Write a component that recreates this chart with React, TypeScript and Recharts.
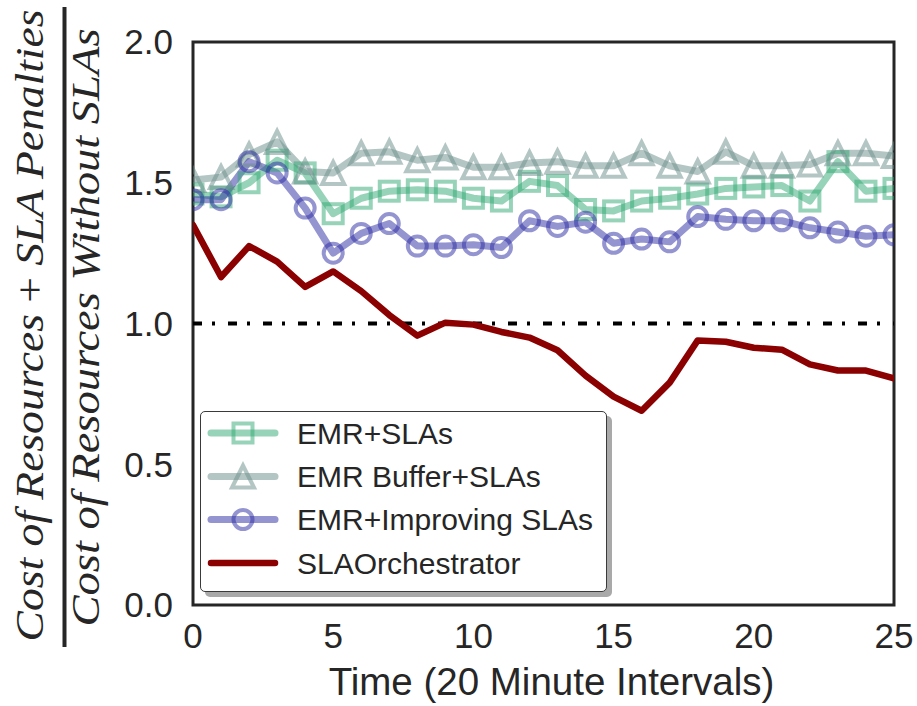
import React from "react";
import {
  LineChart,
  Line,
  XAxis,
  YAxis,
  ReferenceLine,
  ReferenceArea,
  Legend,
  Label,
} from "recharts";

// ---- data -------------------------------------------------------------
const times = [
  0, 1, 2, 3, 4, 5, 6, 7, 8, 9, 10, 11, 12, 13, 14, 15, 16, 17, 18, 19, 20,
  21, 22, 23, 24, 25,
];

const emrSlas = [
  1.46, 1.45, 1.5, 1.58, 1.535, 1.39, 1.445, 1.47, 1.475, 1.47, 1.445, 1.435,
  1.505, 1.49, 1.405, 1.4, 1.435, 1.445, 1.46, 1.48, 1.485, 1.49, 1.435, 1.575,
  1.47, 1.48,
];

const emrBuffer = [
  1.51, 1.52, 1.6, 1.645, 1.54, 1.535, 1.605, 1.61, 1.58, 1.59, 1.555, 1.555,
  1.57, 1.575, 1.56, 1.56, 1.605, 1.56, 1.54, 1.61, 1.56, 1.56, 1.565, 1.605,
  1.605, 1.595,
];

const emrImproving = [
  1.44, 1.44, 1.575, 1.535, 1.41, 1.25, 1.32, 1.355, 1.275, 1.275, 1.28, 1.27,
  1.365, 1.345, 1.36, 1.285, 1.3, 1.29, 1.38, 1.37, 1.365, 1.365, 1.34, 1.325,
  1.31, 1.315,
];

const slaOrchestrator = [
  1.35, 1.165, 1.275, 1.22, 1.13, 1.185, 1.115, 1.03, 0.957, 1.003, 0.996,
  0.97, 0.95, 0.905, 0.815, 0.74, 0.69, 0.79, 0.94, 0.935, 0.914, 0.907, 0.855,
  0.833, 0.833, 0.805,
];

const xTicks = [0, 5, 10, 15, 20, 25];
const yTicks = [0, 0.5, 1.0, 1.5, 2.0];
const baseline = 1.0;

const rows = times.map((t, i) => ({
  t,
  emrSlas: emrSlas[i],
  emrBuffer: emrBuffer[i],
  emrImproving: emrImproving[i],
  slaOrchestrator: slaOrchestrator[i],
}));

// ---- styling ----------------------------------------------------------
const INK = "#262626";
const SANS = "'Liberation Sans', Arial, sans-serif";
const SERIF = "'Liberation Serif', 'Times New Roman', serif";

type Marker = "square" | "triangle" | "circle" | "none";

const series: {
  key: string;
  name: string;
  color: string;
  width: number;
  alpha: number;
  marker: Marker;
}[] = [
  { key: "emrSlas", name: "EMR+SLAs", color: "#2fa771", width: 7, alpha: 0.5, marker: "square" },
  { key: "emrBuffer", name: "EMR Buffer+SLAs", color: "#698d89", width: 7, alpha: 0.5, marker: "triangle" },
  { key: "emrImproving", name: "EMR+Improving SLAs", color: "#2929a1", width: 7, alpha: 0.5, marker: "circle" },
  { key: "slaOrchestrator", name: "SLAOrchestrator", color: "#8b0000", width: 6.5, alpha: 1, marker: "none" },
];

function markerShape(kind: Marker, cx: number, cy: number, color: string, alpha: number, key?: React.Key) {
  const common = {
    fill: "none",
    stroke: color,
    strokeWidth: 4,
    strokeOpacity: alpha,
  };
  if (kind === "square") {
    return <rect key={key} x={cx - 9.5} y={cy - 9.5} width={19} height={19} {...common} />;
  }
  if (kind === "circle") {
    return <circle key={key} cx={cx} cy={cy} r={9.5} {...common} />;
  }
  if (kind === "triangle") {
    const s = 11;
    return (
      <polygon
        key={key}
        points={`${cx},${cy - s} ${cx - s},${cy + s} ${cx + s},${cy + s}`}
        strokeLinejoin="miter"
        {...common}
      />
    );
  }
  return null;
}

function dotFor(s: (typeof series)[number]) {
  if (s.marker === "none") return false;
  return (p: any) => markerShape(s.marker, p.cx, p.cy, s.color, s.alpha, `${s.key}-${p.index}`);
}

// ---- legend -----------------------------------------------------------
function LegendBox() {
  const rowY = [21, 64.5, 107.5, 151];
  return (
    <div
      style={{
        width: 405,
        height: 179,
        border: "1px solid #3a3a3a",
        borderRadius: 5,
        background: "#fff",
        boxShadow: "5px 5px 0 #a9a9a9",
      }}
    >
      <svg width={405} height={179} style={{ display: "block" }}>
        {series.map((s, i) => (
          <g key={s.key}>
            <line
              x1={10}
              x2={74}
              y1={rowY[i]}
              y2={rowY[i]}
              stroke={s.color}
              strokeOpacity={s.alpha}
              strokeWidth={s.width}
              strokeLinecap="round"
            />
            {markerShape(s.marker, 42, rowY[i], s.color, s.alpha)}
            <text
              x={96}
              y={rowY[i]}
              dominantBaseline="central"
              fontFamily={SANS}
              fontSize={30}
              fill={INK}
            >
              {s.name}
            </text>
          </g>
        ))}
      </svg>
    </div>
  );
}

// ---- axis labels ------------------------------------------------------
function YFraction() {
  const base = {
    fontFamily: SERIF,
    fontStyle: "italic" as const,
    fontSize: 41,
    fill: INK,
    textAnchor: "middle" as const,
    lengthAdjust: "spacingAndGlyphs" as const,
  };
  return (
    <g>
      <text transform="translate(43, 325.5) rotate(-90)" textLength={632} {...base}>
        Cost of Resources
        <tspan fontStyle="normal"> + </tspan>
        SLA Penalties
      </text>
      <rect x={62.5} y={7} width={4} height={640} fill={INK} />
      <text transform="translate(99, 327.5) rotate(-90)" textLength={598} {...base}>
        Cost of Resources Without SLAs
      </text>
    </g>
  );
}

function XTitle(props: any) {
  const vb = props.viewBox || { x: 193, y: 605, width: 701 };
  return (
    <text
      x={vb.x + vb.width / 2 + 8}
      y={vb.y + 90}
      textAnchor="middle"
      fontFamily={SANS}
      fontSize={38.5}
      fill={INK}
    >
      Time (20 Minute Intervals)
    </text>
  );
}

export default function App() {
  const tickStyle = { fontSize: 35, fill: INK, fontFamily: SANS };
  return (
    <div
      style={{
        position: "absolute",
        left: 0,
        top: 0,
        width: 917,
        height: 706,
        background: "#fff",
      }}
    >
      <LineChart
        width={917}
        height={706}
        data={rows}
        margin={{ top: 42, right: 23, bottom: 0, left: 0 }}
      >
        <XAxis
          dataKey="t"
          type="number"
          domain={[0, 25]}
          ticks={xTicks}
          interval={0}
          height={101}
          axisLine={false}
          tickLine={false}
          tickSize={0}
          tickMargin={18}
          tick={tickStyle}
          allowDataOverflow
        >
          <Label content={XTitle} />
        </XAxis>
        <YAxis
          type="number"
          domain={[0, 2]}
          ticks={yTicks}
          interval={0}
          width={193}
          axisLine={false}
          tickLine={false}
          tickSize={0}
          tickMargin={20}
          tick={tickStyle}
          tickFormatter={(v: number) => v.toFixed(1)}
          allowDataOverflow
        >
          <Label content={() => <YFraction />} />
        </YAxis>
        <ReferenceLine
          y={baseline}
          stroke="#000"
          strokeWidth={4}
          strokeDasharray="9 10 3 13"
        />
        {series.map((s) => (
          <Line
            key={s.key}
            dataKey={s.key}
            name={s.name}
            stroke={s.color}
            strokeOpacity={s.alpha}
            strokeWidth={s.width}
            strokeLinejoin="round"
            strokeLinecap="round"
            dot={dotFor(s)}
            activeDot={false}
            isAnimationActive={false}
          />
        ))}
        <ReferenceArea
          x1={0}
          x2={25}
          y1={0}
          y2={2}
          fill="none"
          fillOpacity={0}
          stroke={INK}
          strokeWidth={3}
        />
        <Legend
          layout="horizontal"
          verticalAlign="middle"
          align="center"
          content={() => <LegendBox />}
          wrapperStyle={{ left: 200, top: 411, width: 407, height: 181 }}
        />
      </LineChart>
    </div>
  );
}
